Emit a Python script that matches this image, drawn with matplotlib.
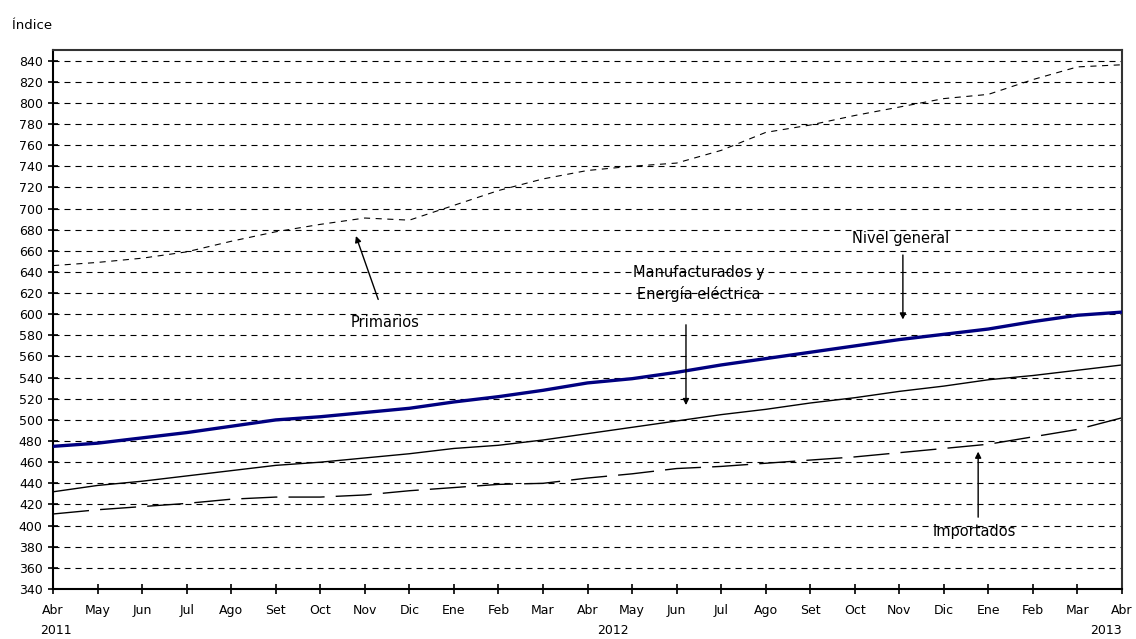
import numpy as np
import matplotlib
matplotlib.use("Agg")
import matplotlib.pyplot as plt

# DATA #################################################################################################################

meses = ['Abr', 'May', 'Jun', 'Jul', 'Ago', 'Set', 'Oct', 'Nov', 'Dic', 'Ene', 'Feb', 'Mar',
         'Abr', 'May', 'Jun', 'Jul', 'Ago', 'Set', 'Oct', 'Nov', 'Dic', 'Ene', 'Feb', 'Mar', 'Abr']
anios = ['2011', '2012', '2013']
anios_pos = [0, 12.5, 24]

nivel_general = [475, 478, 483, 488, 494, 500, 503, 507, 511, 517, 522, 528,
                 535, 539, 545, 552, 558, 564, 570, 576, 581, 586, 593, 599, 602]
manufacturados = [432, 438, 442, 447, 452, 457, 460, 464, 468, 473, 476, 481,
                  487, 493, 499, 505, 510, 516, 521, 527, 532, 538, 542, 547, 552]
importados = [411, 415, 418, 421, 425, 427, 427, 429, 433, 436, 439, 440,
              445, 449, 454, 456, 459, 462, 465, 469, 473, 477, 484, 491, 502]
primarios = [646, 649, 653, 659, 669, 678, 685, 691, 689, 703, 717, 728,
             736, 740, 743, 755, 772, 779, 788, 796, 804, 808, 822, 834, 836]

y_ticks = list(range(340, 841, 20))

# FIGURE ###############################################################################################################

plt.rcParams['font.family'] = ['DejaVu Sans']
fig = plt.figure(figsize=(11.36, 6.39), dpi=100)
ax = fig.add_axes([0.0467, 0.0782, 0.941, 0.8436])

x = np.arange(len(meses))

# grid lines
for v in y_ticks[1:]:
    ax.axhline(v, color='black', lw=0.8, linestyle=(0, (5.4, 4.5)), zorder=1)

ax.plot(x, primarios, color='black', lw=0.8, linestyle=(0, (5.5, 5)), zorder=2)
ax.plot(x, importados, color='black', lw=1.0, linestyle=(0, (26, 8)), zorder=2)
ax.plot(x, manufacturados, color='black', lw=1.0, zorder=2)
ax.plot(x, nivel_general, color='#000080', lw=2.4, zorder=3)

ax.set_xlim(0, 24)
ax.set_ylim(340, 850)
ax.set_yticks(y_ticks)
ax.set_yticklabels([str(v) for v in y_ticks], fontsize=9)
ax.set_xticks(x)
ax.set_xticklabels(meses, fontsize=9)
ax.tick_params(axis='both', direction='inout', length=7, width=1.2, color='black', pad=4)
ax.tick_params(axis='x', pad=7)
for s in ['left', 'bottom']:
    ax.spines[s].set_linewidth(1.5)
    ax.spines[s].set_color('black')
for s in ['top', 'right']:
    ax.spines[s].set_linewidth(1.5)
    ax.spines[s].set_color('#333333')

# years under month labels
for a, p in zip(anios, anios_pos):
    ha = 'center'
    dx = 0.07
    if p == 24:
        ha = 'right'
        dx = 0.0
    ax.text(p + dx, -0.064, a, transform=ax.get_xaxis_transform(),
            ha=ha, va='top', fontsize=9)

fig.text(0.0106, 0.96, 'Índice', fontsize=9.5, ha='left', va='center')

# annotations
arrow = dict(arrowstyle='-|>', color='black', lw=1.0, mutation_scale=9, shrinkA=0, shrinkB=0)
ax.annotate('', xy=(6.80, 674), xytext=(7.30, 614), arrowprops=arrow)
ax.text(7.45, 592, 'Primarios', ha='center', va='center', fontsize=10.5)

ax.annotate('', xy=(14.21, 514), xytext=(14.21, 590), arrowprops=arrow)
ax.text(14.5, 629, 'Manufacturados y\nEnergía eléctrica', ha='center', va='center', fontsize=10.5,
        linespacing=1.5)

ax.annotate('', xy=(19.08, 595), xytext=(19.08, 656), arrowprops=arrow)
ax.text(19.02, 672, 'Nivel general', ha='center', va='center', fontsize=10.5)

ax.annotate('', xy=(20.77, 470), xytext=(20.77, 408), arrowprops=arrow)
ax.text(20.68, 394, 'Importados', ha='center', va='center', fontsize=10.5)

plt.savefig('out.png', dpi=100)
